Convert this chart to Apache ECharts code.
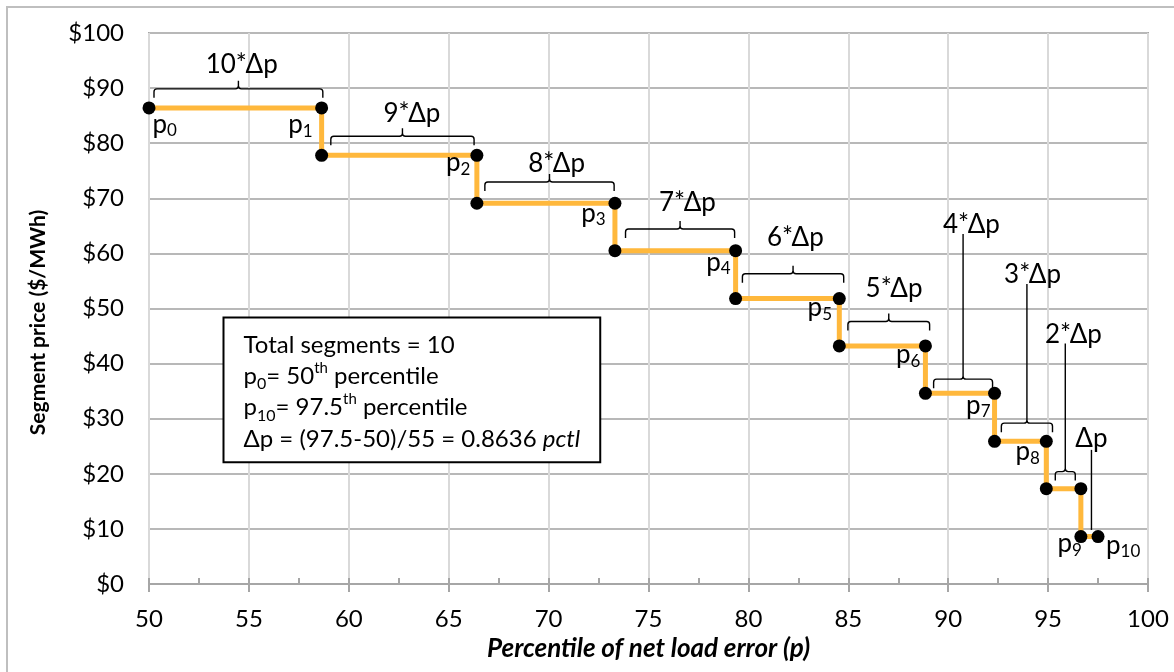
<!DOCTYPE html>
<html><head><meta charset="utf-8">
<script src="https://cdn.jsdelivr.net/npm/echarts@6/dist/echarts.min.js"></script>
<style>html,body{margin:0;padding:0;background:#fff}#c{width:1174px;height:672px}</style>
</head><body><div id="c"></div>
<script>
// ---- chart values ----
const percentiles = [50, 58.64, 66.41, 73.32, 79.36, 84.55, 88.86, 92.32, 94.91, 96.64, 97.5];
const prices = [86.4, 77.8, 69.1, 60.5, 51.8, 43.2, 34.6, 25.9, 17.3, 8.6];
const segmentLabels = ['10*Δp', '9*Δp', '8*Δp', '7*Δp', '6*Δp', '5*Δp', '4*Δp', '3*Δp', '2*Δp', 'Δp'];
const pointSubscripts = ['0', '1', '2', '3', '4', '5', '6', '7', '8', '9', '10'];
const xTickInterval = 5;
const yTickInterval = 10;
const yTickPrefix = '$';
const xTitle = 'Percentile of net load error (p)';
const yTitle = 'Segment price ($/MWh)';
const infoText = 'Total segments = 10\np{s|0}= 50{u|th} percentile\np{s|10}= 97.5{u|th} percentile\nΔp = (97.5-50)/55 = 0.8636 {i|pctl}';

// ---- annotation layout (data units of the axes) ----
const braceSpan = [[50.25,58.70],[59.10,66.27],[66.81,73.28],[73.85,79.31],[79.70,84.77],[84.98,89.07],[89.27,92.22],[92.66,95.22],[95.36,96.36],null];
const braceLevel = [89.86,81.25,72.97,64.43,56.31,47.65,37.18,29.19,20.40,null];
const labelAt = [[54.64,94.28],[63.16,85.38],[70.40,76.22],[76.95,69.26],[82.35,62.85],[87.29,53.64],[91.16,65.16],[94.22,56.08],[96.27,45.29],[97.17,26.34]];
const leaderType = [0,0,0,0,0,0,1,1,1,2];
const soloLeaderBottom = 9.81;
// pixel offsets of the p labels from their anchor dot
const pLabelOffset = [[3.5,17.5,'left'],[-9,17.8,'right'],[-6.4,8.5,'right'],[-9.3,11.2,'right'],[-5,12.8,'right'],[-7.3,10.1,'right'],[-5,10.1,'right'],[-4,12.8,'right'],[-6.4,11.8,'right'],[1,8.2,'right'],[8,9.5,'left']];

// ---- derived series data ----
const stepData = [];
for (let i = 0; i < prices.length; i++) {
  stepData.push([percentiles[i], prices[i]]);
  stepData.push([percentiles[i + 1], prices[i]]);
}
const pAnchors = pointSubscripts.map((s, k) => {
  if (k === 0) return [percentiles[0], prices[0]];
  if (k <= 8) return [percentiles[k], prices[k - 1]];
  return [percentiles[k], prices[9]];
});

const FONT = 'Lato';
const chart = echarts.init(document.getElementById('c'), null, {renderer: 'canvas'});

const option = {
  animation: false,
  backgroundColor: '#fff',
  grid: {left: 149, right: 26, top: 33, bottom: 88, show: true, borderColor: '#A6A6A6', borderWidth: 2, containLabel: false},
  xAxis: [{
    type: 'value', min: 50, max: 100, interval: xTickInterval, position: 'bottom',
    name: xTitle, nameLocation: 'middle', nameGap: 50,
    nameTextStyle: {fontFamily: FONT, fontSize: 26, fontWeight: 'bold', fontStyle: 'italic', color: '#000'},
    axisLine: {show: true, lineStyle: {color: '#A6A6A6', width: 2}},
    axisTick: {show: true, length: 8, lineStyle: {color: '#A6A6A6', width: 2}},
    axisLabel: {fontFamily: FONT, fontSize: 24, color: '#000', margin: 23},
    splitLine: {show: true, lineStyle: {color: '#D9D9D9', width: 2}}
  }, {
    type: 'value', min: 50, max: 100, interval: xTickInterval / 2, position: 'bottom',
    axisLine: {show: false}, axisLabel: {show: false}, splitLine: {show: false},
    axisTick: {show: true, inside: true, length: 6, lineStyle: {color: '#A6A6A6', width: 2}}
  }],
  yAxis: {
    type: 'value', min: 0, max: 100, interval: yTickInterval,
    axisLine: {show: false}, axisTick: {show: false},
    axisLabel: {fontFamily: FONT, fontSize: 24, color: '#000', margin: 25, formatter: v => yTickPrefix + v},
    splitLine: {show: true, lineStyle: {color: '#B8B8B8', width: 2}}
  },
  series: [{
    type: 'line', data: stepData, showAllSymbol: true, symbol: 'circle', symbolSize: 13,
    itemStyle: {color: '#000'}, lineStyle: {color: '#FFB83C', width: 5}, z: 3
  }, {
    type: 'custom', data: segmentLabels.map((l, i) => i), z: 4,
    renderItem: function (params, api) {
      const i = params.dataIndex;
      const children = [];
      const t = api.coord(labelAt[i]);
      children.push({type: 'text', style: {text: segmentLabels[i], x: t[0], y: t[1], align: 'center', verticalAlign: 'middle', fontFamily: FONT, fontSize: 26, fill: '#000'}});
      if (braceSpan[i]) {
        const a = api.coord([braceSpan[i][0], braceLevel[i]]);
        const b = api.coord([braceSpan[i][1], braceLevel[i]]);
        const y = a[1], x0 = a[0], x1 = b[0], xc = (x0 + x1) / 2;
        const r = 3, d = 9, h = 8;
        let p = `M${x0},${y + d} L${x0},${y + r} Q${x0},${y} ${x0 + r},${y} L${xc - r},${y} Q${xc},${y} ${xc},${y - r} ` +
                `M${xc},${y - r} Q${xc},${y} ${xc + r},${y} L${x1 - r},${y} Q${x1},${y} ${x1},${y + r} L${x1},${y + d}`;
        if (leaderType[i] === 1) {
          p += ` M${xc},${y - r} L${xc},${t[1] + 9}`;
        } else {
          p += ` M${xc},${y - r} L${xc},${y - h}`;
        }
        children.push({type: 'path', shape: {pathData: p}, style: {fill: null, stroke: '#000', lineWidth: 1.4}});
      } else if (leaderType[i] === 2) {
        const btm = api.coord([labelAt[i][0], soloLeaderBottom]);
        children.push({type: 'line', shape: {x1: btm[0], y1: t[1] + 11, x2: btm[0], y2: btm[1]}, style: {stroke: '#000', lineWidth: 1.4}});
      }
      return {type: 'group', children: children};
    }
  }, {
    type: 'custom', data: pointSubscripts.map((s, k) => k), z: 5,
    renderItem: function (params, api) {
      const k = params.dataIndex;
      const c = api.coord(pAnchors[k]);
      const o = pLabelOffset[k];
      return {type: 'text', style: {
        text: '{m|p}{s|' + pointSubscripts[k] + '}', x: c[0] + o[0], y: c[1] + o[1] - 1, align: o[2], verticalAlign: 'middle',
        rich: {m: {fontFamily: FONT, fontSize: 26, lineHeight: 30, fill: '#000'}, s: {fontFamily: FONT, fontSize: 17, lineHeight: 16, verticalAlign: 'bottom', fill: '#000'}}
      }};
    }
  }],
  graphic: [
    {type: 'rect', silent: true, z: -10, shape: {x: 7, y: 7, width: 1200, height: 700}, style: {fill: 'none', stroke: '#BFBFBF', lineWidth: 2}},
    {type: 'text', silent: true, z: 50, x: 38, y: 322.5, rotation: Math.PI / 2, style: {
      text: yTitle, fontFamily: FONT, fontSize: 21, fontWeight: 'bold', fill: '#000', align: 'center', verticalAlign: 'middle'
    }},
    {type: 'text', silent: true, z: 101, x: 224.5, y: 318.5, style: {
      text: infoText,
      fontFamily: FONT, fontSize: 24, lineHeight: 31.3, fill: '#000', verticalAlign: 'top', align: 'left',
      backgroundColor: '#fff', borderColor: '#000', borderWidth: 2, padding: [11, 19, 6.5, 19],
      rich: {
        s: {fontFamily: FONT, fontSize: 16, lineHeight: 14, verticalAlign: 'bottom', fill: '#000'},
        u: {fontFamily: FONT, fontSize: 15, lineHeight: 22, verticalAlign: 'top', fill: '#000'},
        i: {fontFamily: FONT, fontSize: 24, fontStyle: 'italic', fill: '#000'}
      }
    }}
  ]
};
chart.setOption(option);
</script>
</body></html>
